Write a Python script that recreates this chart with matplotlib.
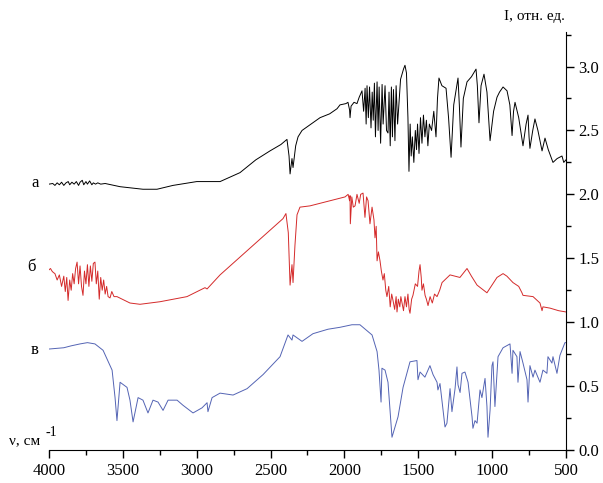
import matplotlib
matplotlib.use('Agg')
import matplotlib.pyplot as plt
from matplotlib.ticker import MultipleLocator, FormatStrFormatter
import matplotlib.transforms as mtransforms

# spectrum "а" (black) - wavenumber, intensity
nu_a = [4000, 3975, 3960, 3945, 3930, 3915, 3900, 3885, 3870, 3860, 3845, 3830, 3815, 3800,
        3790, 3775, 3765, 3750, 3740, 3725, 3710, 3700, 3685, 3670, 3650, 3620, 3580, 3519,
        3440, 3364, 3269, 3161, 3000, 2842, 2707, 2600, 2504, 2430, 2389, 2375, 2368, 2355,
        2348, 2330, 2314, 2287, 2165, 2100, 2050, 2030, 1990, 1976, 1965, 1962, 1955, 1935,
        1915, 1900, 1881, 1870, 1860, 1853, 1847, 1838, 1830, 1820, 1812, 1805, 1797, 1790,
        1779, 1772, 1765, 1755, 1745, 1738, 1725, 1715, 1705, 1698, 1690, 1682, 1675, 1668,
        1658, 1650, 1640, 1620, 1600, 1590, 1580, 1570, 1563, 1555, 1548, 1540, 1530, 1520,
        1512, 1505, 1495, 1485, 1475, 1465, 1455, 1445, 1435, 1425, 1410, 1395, 1380, 1370,
        1360, 1340, 1312, 1295, 1278, 1260, 1231, 1222, 1211, 1195, 1170, 1140, 1109, 1100,
        1089, 1075, 1055, 1035, 1014, 990, 967, 950, 926, 899, 880, 865, 855, 845, 820, 791,
        770, 757, 750, 744, 725, 710, 690, 662, 642, 620, 588, 560, 527, 515, 500]
i_a = [2.08, 2.085, 2.07, 2.09, 2.075, 2.095, 2.07, 2.09, 2.10, 2.075, 2.095, 2.08, 2.10, 2.07,
       2.095, 2.11, 2.075, 2.10, 2.08, 2.105, 2.075, 2.09, 2.08, 2.09, 2.08, 2.085, 2.075, 2.06,
       2.05, 2.04, 2.04, 2.07, 2.10, 2.10, 2.17, 2.27, 2.34, 2.39, 2.43, 2.30, 2.16, 2.28,
       2.21, 2.38, 2.45, 2.50, 2.60, 2.63, 2.67, 2.70, 2.71, 2.72, 2.66, 2.60, 2.69, 2.72,
       2.71, 2.76, 2.81, 2.65, 2.83, 2.55, 2.85, 2.60, 2.84, 2.52, 2.80, 2.58, 2.87, 2.45,
       2.88, 2.50, 2.84, 2.40, 2.86, 2.55, 2.85, 2.50, 2.48, 2.80, 2.38, 2.84, 2.45, 2.82,
       2.42, 2.85, 2.55, 2.90, 2.98, 3.01, 2.95, 2.60, 2.18, 2.55, 2.30, 2.45, 2.25, 2.50,
       2.35, 2.55, 2.32, 2.60, 2.40, 2.62, 2.45, 2.58, 2.38, 2.55, 2.50, 2.65, 2.45, 2.75,
       2.91, 2.85, 2.83, 2.60, 2.29, 2.70, 2.91, 2.70, 2.37, 2.75, 2.88, 2.92, 2.98, 2.85,
       2.56, 2.85, 2.94, 2.80, 2.42, 2.65, 2.76, 2.80, 2.84, 2.81, 2.70, 2.46, 2.65, 2.72, 2.60, 2.38,
       2.55, 2.62, 2.45, 2.36, 2.50, 2.59, 2.50, 2.34, 2.44, 2.35, 2.25, 2.28, 2.30, 2.25, 2.27]

# spectrum "б" (red)
nu_b = [4000, 3990, 3980, 3972, 3960, 3945, 3930, 3915, 3900, 3890, 3880, 3871, 3860, 3850,
        3840, 3830, 3820, 3810, 3800, 3790, 3780, 3770, 3760, 3750, 3740, 3730, 3720, 3710,
        3700, 3689, 3680, 3670, 3660, 3650, 3640, 3630, 3620, 3610, 3600, 3587, 3575, 3560,
        3540, 3452, 3384, 3249, 3066, 2944, 2930, 2842, 2416, 2396, 2380, 2368, 2355, 2348,
        2335, 2321, 2301, 2233, 2098, 1996, 1975, 1965, 1962, 1960, 1950, 1940, 1928, 1915,
        1900, 1890, 1874, 1861, 1850, 1840, 1827, 1813, 1800, 1793, 1785, 1779, 1770, 1759,
        1750, 1739, 1730, 1720, 1712, 1700, 1690, 1680, 1671, 1660, 1650, 1644, 1635, 1625,
        1618, 1610, 1600, 1590, 1580, 1570, 1562, 1556, 1545, 1536, 1520, 1505, 1495, 1488,
        1480, 1475, 1465, 1454, 1445, 1434, 1420, 1405, 1390, 1373, 1355, 1339, 1285, 1218,
        1170, 1140, 1102, 1035, 967, 926, 900, 859, 820, 798, 791, 723, 676, 662, 656, 608,
        550, 500]
i_b = [1.41, 1.42, 1.40, 1.39, 1.38, 1.33, 1.37, 1.28, 1.36, 1.24, 1.35, 1.17, 1.33, 1.25,
       1.38, 1.30, 1.42, 1.47, 1.30, 1.44, 1.28, 1.21, 1.40, 1.30, 1.45, 1.28, 1.44, 1.32,
       1.46, 1.47, 1.30, 1.40, 1.18, 1.35, 1.25, 1.33, 1.22, 1.28, 1.20, 1.19, 1.24, 1.20,
       1.20, 1.15, 1.14, 1.16, 1.20, 1.27, 1.26, 1.37, 1.81, 1.85, 1.70, 1.29, 1.45, 1.31,
       1.60, 1.84, 1.90, 1.91, 1.95, 1.98, 2.00, 1.95, 1.99, 1.77, 1.98, 1.90, 1.91, 2.00,
       1.93, 2.00, 2.01, 1.82, 1.98, 1.95, 1.77, 1.90, 1.80, 1.66, 1.75, 1.48, 1.55, 1.48,
       1.40, 1.33, 1.38, 1.25, 1.20, 1.28, 1.12, 1.22, 1.17, 1.10, 1.20, 1.08, 1.18, 1.12,
       1.20, 1.15, 1.09, 1.20, 1.12, 1.22, 1.10, 1.07, 1.18, 1.21, 1.30, 1.28, 1.40, 1.45,
       1.35, 1.25, 1.30, 1.21, 1.18, 1.13, 1.20, 1.15, 1.22, 1.20, 1.25, 1.31, 1.37, 1.35,
       1.42, 1.36, 1.29, 1.23, 1.35, 1.38, 1.36, 1.31, 1.28, 1.23, 1.21, 1.20, 1.15, 1.09, 1.12, 1.11,
       1.09, 1.08]

# spectrum "в" (blue)
nu_c = [4000, 3900, 3850, 3790, 3740, 3689, 3634, 3573, 3553, 3540, 3519, 3472, 3452, 3431,
        3397, 3364, 3330, 3296, 3262, 3228, 3194, 3133, 3093, 3025, 2964, 2930, 2924, 2896,
        2842, 2754, 2659, 2551, 2436, 2382, 2355, 2348, 2287, 2213, 2111, 2030, 1949, 1895,
        1813, 1779, 1766, 1752, 1746, 1725, 1705, 1678, 1637, 1603, 1556, 1509, 1502, 1488,
        1455, 1421, 1400, 1373, 1367, 1353, 1319, 1306, 1285, 1272, 1251, 1238, 1231, 1217,
        1204, 1184, 1163, 1136, 1130, 1116, 1102, 1082, 1069, 1048, 1035, 1028, 1014, 1001,
        994, 981, 960, 926, 879, 865, 859, 832, 825, 811, 791, 764, 757, 744, 723, 710, 676,
        656, 629, 622, 595, 588, 561, 541, 507, 500]
i_c = [0.79, 0.80, 0.815, 0.83, 0.84, 0.83, 0.78, 0.625, 0.41, 0.23, 0.53, 0.49, 0.39, 0.22,
       0.41, 0.39, 0.29, 0.39, 0.375, 0.31, 0.39, 0.39, 0.35, 0.29, 0.33, 0.37, 0.30, 0.41,
       0.445, 0.43, 0.48, 0.59, 0.73, 0.90, 0.86, 0.90, 0.85, 0.91, 0.945, 0.96, 0.98, 0.98,
       0.90, 0.77, 0.625, 0.375, 0.64, 0.625, 0.53, 0.10, 0.26, 0.49, 0.69, 0.70, 0.55, 0.61,
       0.57, 0.66, 0.59, 0.53, 0.47, 0.52, 0.18, 0.21, 0.48, 0.30, 0.48, 0.65, 0.51, 0.45,
       0.60, 0.61, 0.53, 0.26, 0.17, 0.23, 0.21, 0.47, 0.41, 0.56, 0.34, 0.10, 0.31, 0.66,
       0.69, 0.34, 0.73, 0.80, 0.83, 0.60, 0.78, 0.73, 0.53, 0.77, 0.68, 0.55, 0.375, 0.66, 0.57, 0.625, 0.53,
       0.625, 0.60, 0.73, 0.68, 0.73, 0.60, 0.74, 0.84, 0.84]

plt.rcParams['font.family'] = ['Liberation Serif', 'DejaVu Serif']

fig = plt.figure(figsize=(6.03, 4.83), dpi=100)
ax = fig.add_axes([0.0813, 0.0683, 0.8573, 0.8654])

ax.plot(nu_a, i_a, color='black', lw=0.7)
ax.plot(nu_b, i_b, color='#d42a2a', lw=0.7)
ax.plot(nu_c, i_c, color='#5464b4', lw=0.7)

ax.set_xlim(4000, 500)
ax.set_ylim(0, 3.27)

ax.spines['left'].set_visible(False)
ax.spines['top'].set_visible(False)
ax.yaxis.tick_right()
ax.xaxis.set_major_locator(MultipleLocator(500))
ax.xaxis.set_minor_locator(MultipleLocator(250))
ax.yaxis.set_major_locator(MultipleLocator(0.5))
ax.yaxis.set_minor_locator(MultipleLocator(0.25))
ax.yaxis.set_major_formatter(FormatStrFormatter('%.1f'))
ax.tick_params(which='major', direction='out', length=6, width=1, labelsize=12)
ax.tick_params(which='minor', direction='out', length=3.5, width=1)
ax.tick_params(axis='y', which='both', right=True, left=False, pad=3)

trans = mtransforms.blended_transform_factory(fig.transFigure, ax.transData)
ax.text(0.058, 2.09, 'а', transform=trans, fontsize=12, ha='center', va='center')
ax.text(0.053, 1.43, 'б', transform=trans, fontsize=12, ha='center', va='center')
ax.text(0.058, 0.78, 'в', transform=trans, fontsize=12, ha='center', va='center')

fig.text(0.887, 0.965, 'I, отн. ед.', fontsize=11, ha='center', va='center')
fig.text(0.015, 0.088, 'ν, см', fontsize=11, ha='left', va='center')
fig.text(0.075, 0.105, '-1', fontsize=10, ha='left', va='center')

fig.savefig('out.png', dpi=100)
